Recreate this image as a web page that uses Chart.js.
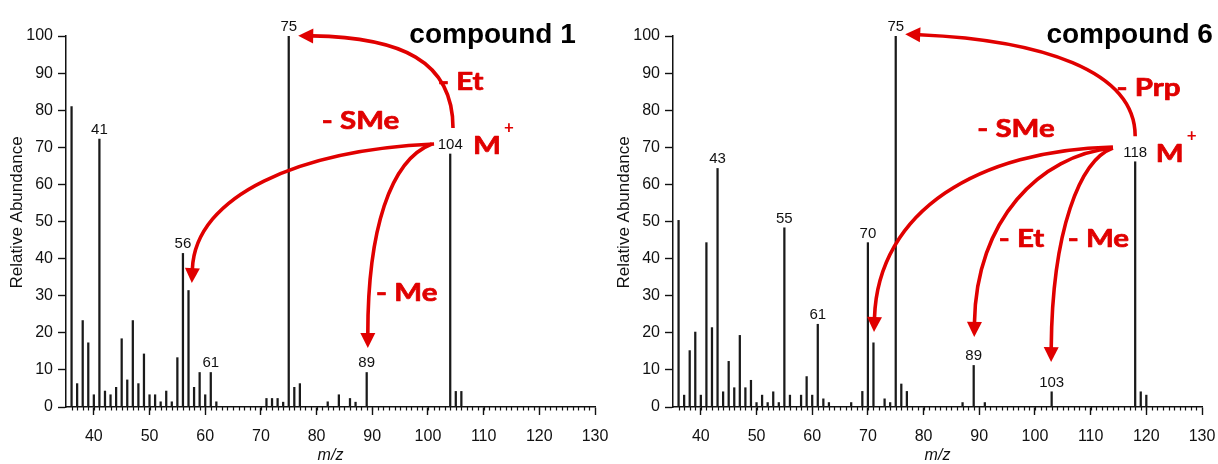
<!DOCTYPE html>
<html>
<head>
<meta charset="utf-8">
<script src="https://cdn.jsdelivr.net/npm/chart.js@4/dist/chart.umd.min.js"></script>
<style>
  html, body { margin: 0; padding: 0; background: #fff; }
  #wrap { position: relative; width: 1218px; height: 464px; }
  canvas { position: absolute; top: 0; }
  #spec1 { left: 0; }
  #spec6 { left: 609px; }
</style>
</head>
<body>
<div id="wrap">
  <canvas id="spec1" width="609" height="464"></canvas>
  <canvas id="spec6" width="609" height="464"></canvas>
</div>
<script>
// m/z axis and abundance axis tick labels
const xTicks = [40, 50, 60, 70, 80, 90, 100, 110, 120, 130];
const yTicks = [0, 10, 20, 30, 40, 50, 60, 70, 80, 90, 100];

// compound 1
const mz1 = [36, 37, 38, 39, 40, 41, 42, 43, 44, 45, 46, 47, 48, 49, 50, 51, 52, 53, 54, 55,
  56, 57, 58, 59, 60, 61, 62, 71, 72, 73, 74, 75, 76, 77, 82, 84, 86, 87, 89, 104, 105, 106];
const abund1 = [81, 6.3, 23.3, 17.3, 3.3, 72.2, 4.3, 3.3, 5.3, 18.4, 7.3, 23.3, 6.3, 14.3, 3.3, 3.3, 1.4, 4.3, 1.4, 13.3,
  41.4, 31.4, 5.3, 9.3, 3.3, 9.3, 1.4, 2.3, 2.3, 2.3, 1.3, 100, 5.3, 6.3, 1.4, 3.3, 2.3, 1.3, 9.3, 68.2, 4.2, 4.2];
const peaks1 = [41, 56, 61, 75, 89, 104];

// compound 6
const mz6 = [36, 37, 38, 39, 40, 41, 42, 43, 44, 45, 46, 47, 48, 49, 50, 51, 52, 53, 54, 55,
  56, 58, 59, 60, 61, 62, 63, 67, 69, 70, 71, 73, 74, 75, 76, 77, 87, 89, 91, 103, 118, 119, 120];
const abund6 = [50.3, 3.2, 15.2, 20.2, 3.2, 44.3, 21.4, 64.3, 4.1, 12.3, 5.2, 19.3, 5.2, 7.2, 1.2, 3.2, 1.2, 4.1, 1.2, 48.3,
  3.2, 3.2, 8.2, 3.2, 22.3, 2.2, 1.2, 1.2, 4.2, 44.3, 17.3, 2.2, 1.2, 100, 6.2, 4.2, 1.2, 11.2, 1.2, 4.1, 66.1, 4.1, 3.2];
const peaks6 = [43, 55, 61, 70, 75, 89, 103, 118];

// fragmentation arrows, in (m/z, abundance) units
const arrows1 = [
  { from: [104.5, 75.2], c1: [104.5, 93.5], c2: [95.0, 99.6], to: [76.7, 100.1] },
  { from: [101.1, 70.9], c1: [77.0, 69.3], c2: [58.2, 57.1], to: [57.6, 33.4] },
  { from: [100.7, 70.9], c1: [93.2, 66.6], c2: [89.2, 47.7], to: [89.2, 15.9] }
];
const arrows6 = [
  { from: [118.0, 73.0], c1: [118.0, 90.8], c2: [100.9, 98.9], to: [76.7, 100.5] },
  { from: [114.0, 70.1], c1: [90.1, 69.3], c2: [71.8, 53.1], to: [71.1, 20.2] },
  { from: [114.0, 69.8], c1: [100.9, 67.9], c2: [89.4, 50.4], to: [89.1, 18.9] },
  { from: [114.0, 69.8], c1: [108.1, 66.6], c2: [103.1, 47.7], to: [102.9, 12.1] }
];

const losses1 = [
  { text: '- Et', at: [105.9, 85.4] },
  { text: '- SMe', at: [87.9, 74.9] },
  { text: '- Me', at: [96.2, 28.6] }
];
const losses6 = [
  { text: '- Prp', at: [120.4, 83.8] },
  { text: '- SMe', at: [96.6, 72.7] },
  { text: '- Et', at: [97.6, 43.2] },
  { text: '- Me', at: [111.4, 43.2] }
];

const RED = '#e00000';
const SANS = '"Liberation Sans", Arial, Helvetica, sans-serif';
const NOTE_FONT = 'bold 25px Lato, "Open Sans", sans-serif';
const NOTE_STRETCH = 1.18;

// horizontally widened bold text, with a thin outline to give it more weight
function stretchedText(ctx, text, x, y, sx) {
  ctx.save();
  ctx.translate(x, y);
  ctx.scale(sx, 1);
  ctx.fillText(text, 0, 0);
  ctx.strokeText(text, 0, 0);
  ctx.restore();
}

function drawArrow(ctx, p0, p1, p2, tip) {
  const head = 15, half = 7.5;
  let dx = tip[0] - p2[0], dy = tip[1] - p2[1];
  const len = Math.hypot(dx, dy);
  dx /= len; dy /= len;
  const base = [tip[0] - dx * head, tip[1] - dy * head];
  ctx.beginPath();
  ctx.moveTo(p0[0], p0[1]);
  ctx.bezierCurveTo(p1[0], p1[1], p2[0], p2[1], base[0] + dx, base[1] + dy);
  ctx.stroke();
  ctx.beginPath();
  ctx.moveTo(tip[0], tip[1]);
  ctx.lineTo(base[0] - dy * half, base[1] + dx * half);
  ctx.lineTo(base[0] + dy * half, base[1] - dx * half);
  ctx.closePath();
  ctx.fill();
}

const spectrumDecor = {
  id: 'spectrumDecor',
  afterDraw(chart, args, opts) {
    const { ctx, chartArea } = chart;
    const xs = chart.scales.x, ys = chart.scales.y;
    const px = p => [xs.getPixelForValue(p[0]), ys.getPixelForValue(p[1])];
    ctx.save();

    // minor ticks every 1 m/z
    ctx.strokeStyle = '#111';
    ctx.lineWidth = 1.2;
    for (let m = xs.min + 1; m < xs.max; m++) {
      const xp = Math.round(xs.getPixelForValue(m)) + 0.5;
      ctx.beginPath();
      ctx.moveTo(xp, chartArea.bottom);
      ctx.lineTo(xp, chartArea.bottom + 3.5);
      ctx.stroke();
    }

    // y axis title
    ctx.fillStyle = '#111';
    ctx.font = '17px ' + SANS;
    ctx.textAlign = 'center';
    ctx.textBaseline = 'middle';
    ctx.save();
    ctx.translate(chartArea.left - 48.5, (chartArea.top + chartArea.bottom) / 2 - 9);
    ctx.rotate(-Math.PI / 2);
    ctx.fillText('Relative Abundance', 0, 0);
    ctx.restore();

    // arrows
    ctx.strokeStyle = RED;
    ctx.fillStyle = RED;
    ctx.lineWidth = 3.6;
    ctx.lineCap = 'butt';
    opts.arrows.forEach(a => drawArrow(ctx, px(a.from), px(a.c1), px(a.c2), px(a.to)));

    // peak labels
    ctx.fillStyle = '#111';
    ctx.font = '15px ' + SANS;
    ctx.textAlign = 'center';
    ctx.textBaseline = 'alphabetic';
    opts.peaks.forEach(m => {
      const v = opts.abund[opts.mz.indexOf(m)];
      const [xp, yp] = px([m, v]);
      ctx.fillText(String(m), xp, yp - 5);
    });

    // neutral losses and molecular ion
    ctx.fillStyle = RED;
    ctx.strokeStyle = RED;
    ctx.lineWidth = 0.7;
    ctx.lineJoin = 'round';
    ctx.font = NOTE_FONT;
    opts.losses.forEach(l => {
      const [xp, yp] = px(l.at);
      stretchedText(ctx, l.text, xp, yp, NOTE_STRETCH);
    });
    const [mx, my] = px(opts.ion);
    ctx.textAlign = 'left';
    stretchedText(ctx, 'M', mx, my, NOTE_STRETCH);
    const mw = ctx.measureText('M').width * NOTE_STRETCH;
    ctx.font = 'bold 17px Lato, sans-serif';
    ctx.textAlign = 'center';
    ctx.textBaseline = 'middle';
    ctx.fillText('+', mx + mw + 8, my - 26);

    // compound name
    ctx.fillStyle = '#000';
    ctx.font = 'bold 28px ' + SANS;
    ctx.textAlign = 'center';
    ctx.textBaseline = 'alphabetic';
    const [tx, ty] = px(opts.titleAt);
    ctx.fillText(opts.title, tx, ty);

    ctx.restore();
  }
};

function makeSpectrum(id, mz, abund, peaks, arrows, losses, ion, title, titleAt, yWidth, padRight) {
  const tickFont = { family: SANS, size: 16 };
  return new Chart(document.getElementById(id), {
    type: 'bar',
    data: {
      datasets: [{
        data: mz.map((m, i) => ({ x: m, y: abund[i] })),
        backgroundColor: '#1a1a1a',
        barThickness: 1.6
      }]
    },
    options: {
      responsive: false,
      animation: false,
      devicePixelRatio: 1,
      layout: { padding: { top: 36, right: padRight, bottom: 0, left: 0 } },
      plugins: {
        legend: { display: false },
        tooltip: { enabled: false },
        spectrumDecor: { mz, abund, peaks, arrows, losses, ion, title, titleAt }
      },
      scales: {
        x: {
          type: 'linear',
          min: 35,
          max: 130,
          offset: false,
          afterBuildTicks: s => { s.ticks = xTicks.map(v => ({ value: v })); },
          afterFit: s => { s.height = 57; s.paddingLeft = 0; s.paddingRight = 0; },
          ticks: { autoSkip: false, maxRotation: 0, padding: 12, color: '#111', font: tickFont },
          grid: { offset: false, drawOnChartArea: false, tickLength: 8, tickWidth: 1.4, tickColor: '#111' },
          border: { display: true, color: '#111', width: 1.5 },
          title: {
            display: true,
            text: 'm/z',
            color: '#111',
            font: { family: SANS, size: 16, style: 'italic', lineHeight: 1 },
            padding: { top: 0, bottom: 0 }
          }
        },
        y: {
          min: 0,
          max: 100,
          afterBuildTicks: s => { s.ticks = yTicks.map(v => ({ value: v })); },
          afterFit: s => { s.width = yWidth; s.paddingTop = 0; s.paddingBottom = 0; },
          ticks: { padding: 5, color: '#111', font: tickFont },
          grid: { drawOnChartArea: false, tickLength: 8, tickWidth: 1.4, tickColor: '#111' },
          border: { display: true, color: '#111', width: 1.5 }
        }
      }
    },
    plugins: [spectrumDecor]
  });
}

makeSpectrum('spec1', mz1, abund1, peaks1, arrows1, losses1, [108.1, 68.2],
  'compound 1', [111.6, 98.2], 66, 14);
makeSpectrum('spec6', mz6, abund6, peaks6, arrows6, losses6, [121.7, 66.1],
  'compound 6', [117.0, 98.2], 64, 16);
</script>
</body>
</html>
